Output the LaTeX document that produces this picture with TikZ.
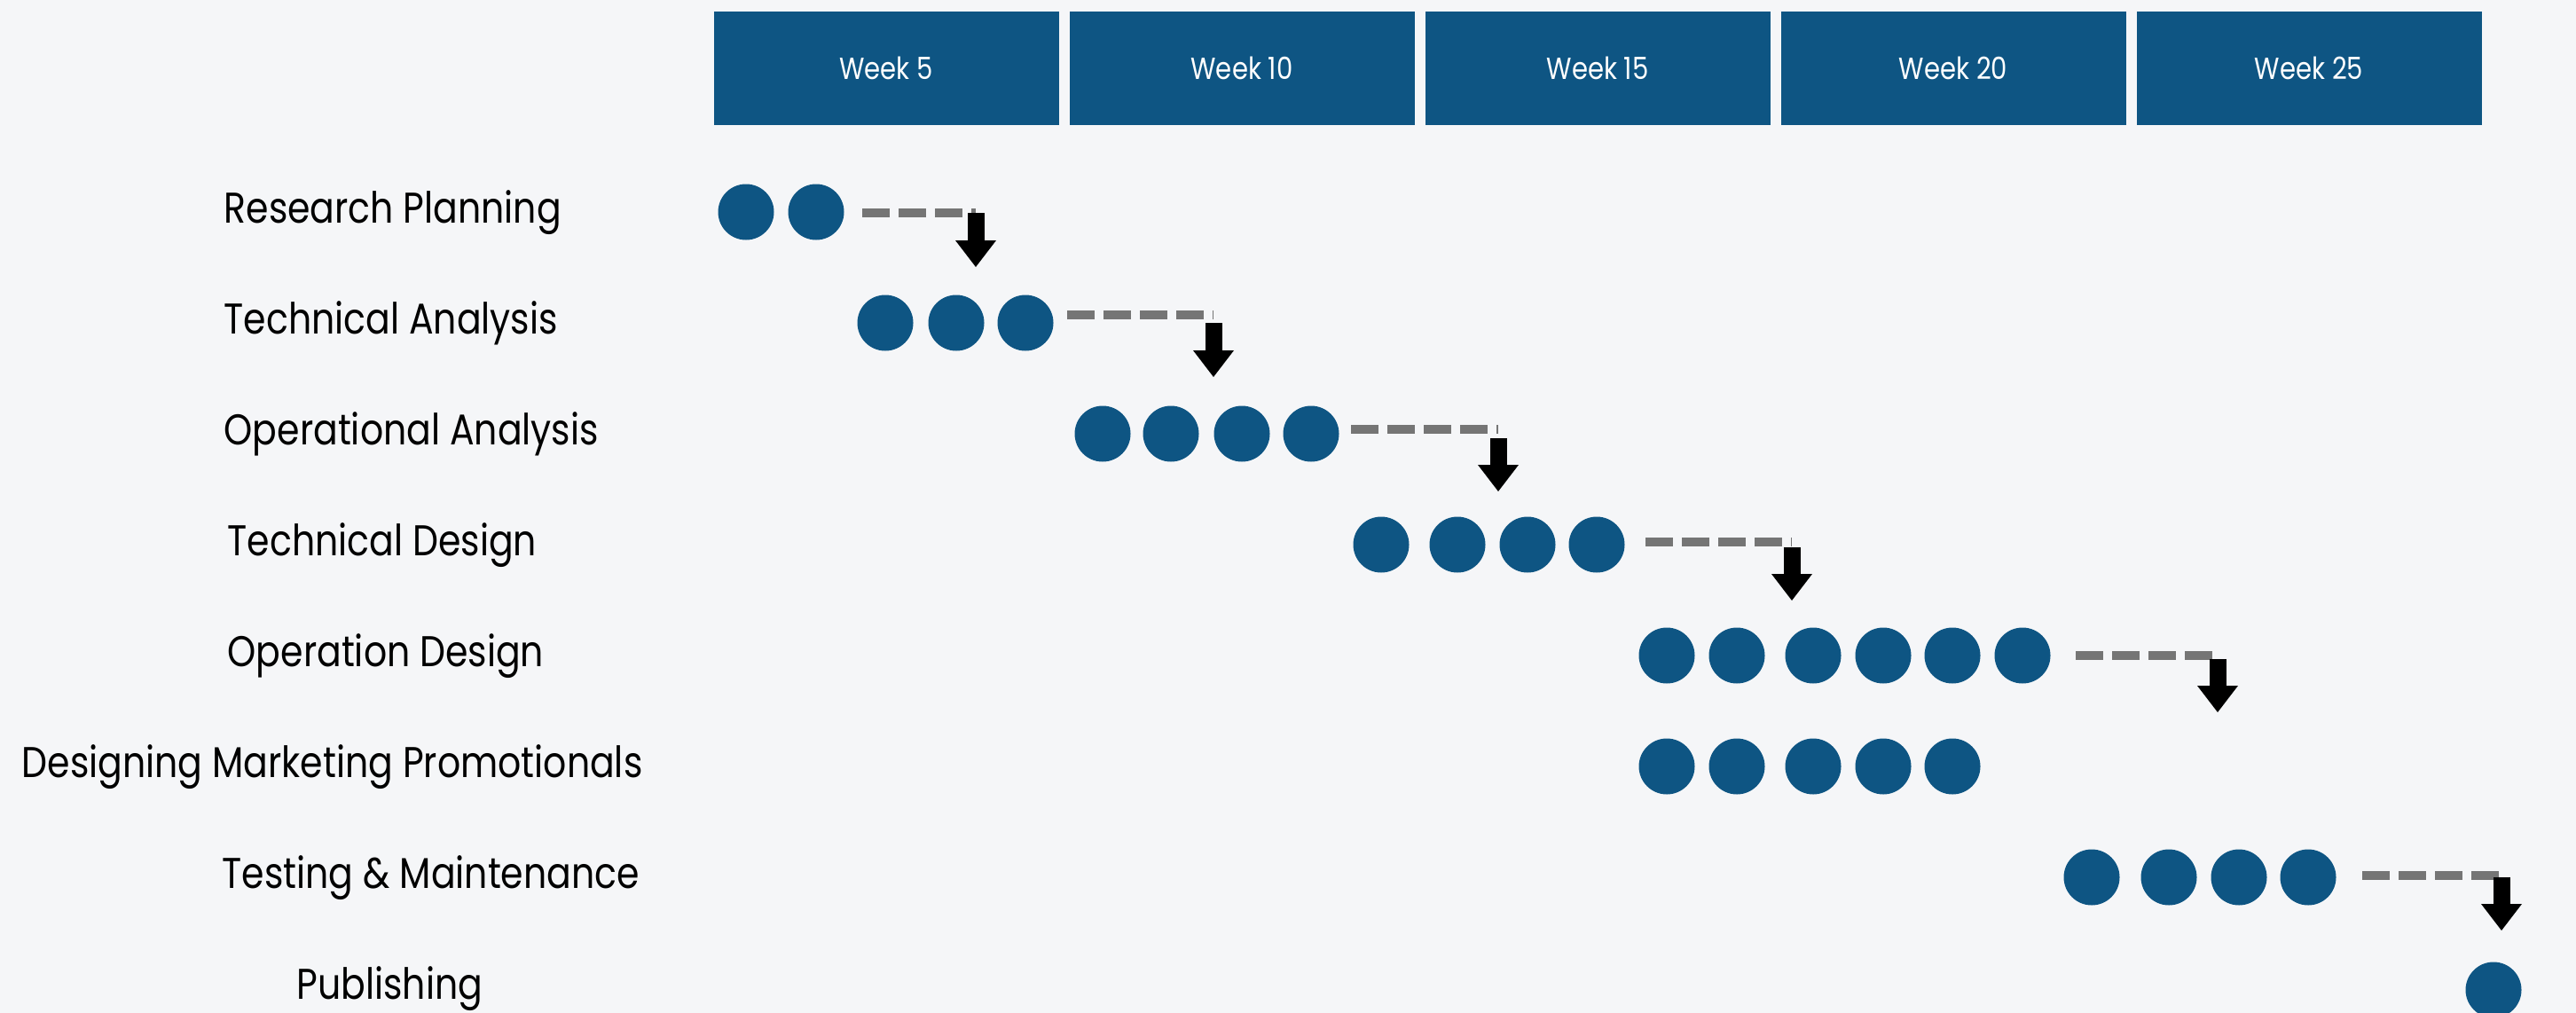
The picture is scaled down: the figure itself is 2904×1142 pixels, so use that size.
\documentclass[tikz,border=0pt]{standalone}
\usepackage{fontspec}
\setmainfont[FakeStretch=0.845]{Poppins}
\usetikzlibrary{arrows.meta}
\usetikzlibrary{positioning}
\definecolor{planblue}{HTML}{0E5583}
\definecolor{linkgray}{HTML}{757575}
\definecolor{pagebg}{HTML}{F5F6F8}
\tikzset{week/.style={fill=planblue, text=white, inner sep=0pt, minimum width=3.89cm, minimum height=1.28cm, font=\fontsize{9.8}{12}\selectfont},
         task/.style={anchor=base west, inner sep=0pt, font=\fontsize{13.8}{16}\selectfont},
         dot/.style={circle, fill=planblue, inner sep=0pt, minimum size=0.63cm},
         link/.style={linkgray, line width=1mm, dash pattern=on 3.1mm off 1mm},
         drop/.style={black, line width=1.9mm, -{Triangle[length=3mm, width=4.6mm, line width=0pt]}}}

\begin{document}
\begin{tikzpicture}[x=0.1mm, y=-0.1mm]
    \fill[pagebg] (0,0) rectangle (2904,1142);
    \useasboundingbox (0,0) rectangle (2904,1142);
    \node[week] (W5) at (999,77) {Week 5};
    \node[week] (W10) at (1400,77) {Week 10};
    \node[week] (W15) at (1801,77) {Week 15};
    \node[week] (W20) at (2202,77) {Week 20};
    \node[week] (W25) at (2603,77) {Week 25};
    \node[task] (RP) at (252,251) {Research Planning};
    \node[task] (TA) at (252,376) {Technical Analysis};
    \node[task] (OA) at (252,501) {Operational Analysis};
    \node[task] (TD) at (256,626) {Technical Design};
    \node[task] (OD) at (256,751) {Operation Design};
    \node[task] (DM) at (24,876) {Designing Marketing Promotionals};
    \node[task] (TM) at (250,1001) {Testing \& Maintenance};
    \node[task] (PU) at (334,1126) {Publishing};
    \foreach \x [count=\i] in {841,920} \node[dot] (RP\i) at (\x,239) {};
    \foreach \x [count=\i] in {998,1078,1156} \node[dot] (TA\i) at (\x,364) {};
    \foreach \x [count=\i] in {1243,1320,1400,1478} \node[dot] (OA\i) at (\x,489) {};
    \foreach \x [count=\i] in {1557,1643,1722,1800} \node[dot] (TD\i) at (\x,614) {};
    \foreach \x [count=\i] in {1879,1958,2044,2123,2201,2280} \node[dot] (OD\i) at (\x,739) {};
    \foreach \x [count=\i] in {1879,1958,2044,2123,2201} \node[dot] (DM\i) at (\x,864) {};
    \foreach \x [count=\i] in {2358,2445,2524,2602} \node[dot] (TM\i) at (\x,989) {};
    \node[dot] (PU1) at (2811,1116) {};
    \coordinate (RPturn) at (1100,240);  \coordinate (RPtip) at (1100,301);
    \coordinate (TAturn) at (1368,355);  \coordinate (TAtip) at (1368,425);
    \coordinate (OAturn) at (1689,484);  \coordinate (OAtip) at (1689,554);
    \coordinate (TDturn) at (2020,611);  \coordinate (TDtip) at (2020,677);
    \coordinate (ODturn) at (2500,739);  \coordinate (ODtip) at (2500,803);
    \coordinate (TMturn) at (2820,987);  \coordinate (TMtip) at (2820,1049);
    \draw[link, shorten <=2mm] (RP2.east |- RPturn) -- (RPturn);
    \draw[link, shorten <=1.5mm] (TA3.east |- TAturn) -- (TAturn);
    \draw[link, shorten <=1.3mm] (OA4.east |- OAturn) -- (OAturn);
    \draw[link, shorten <=2.3mm] (TD4.east |- TDturn) -- (TDturn);
    \draw[link, shorten <=2.8mm] (OD6.east |- ODturn) -- (ODturn);
    \draw[link, shorten <=2.9mm] (TM4.east |- TMturn) -- (TMturn);
    \draw[drop] (RPturn) -- (RPtip);
    \draw[drop, shorten <=0.9mm] (TAturn) -- (TAtip);
    \draw[drop, shorten <=1mm] (OAturn) -- (OAtip);
    \draw[drop, shorten <=0.6mm] (TDturn) -- (TDtip);
    \draw[drop, shorten <=0.4mm] (ODturn) -- (ODtip);
    \draw[drop, shorten <=0.2mm] (TMturn) -- (TMtip);
\end{tikzpicture}
\end{document}
